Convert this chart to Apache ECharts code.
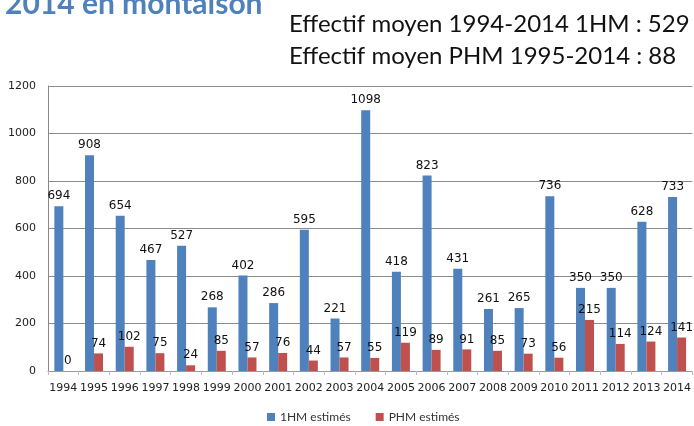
<!DOCTYPE html>
<html>
<head>
<meta charset="utf-8">
<script src="https://cdn.jsdelivr.net/npm/echarts@6/dist/echarts.min.js"></script>
<style>
  html, body { margin: 0; padding: 0; background: #fff; }
  #chart { width: 694px; height: 426px; }
</style>
</head>
<body>
<div id="chart"></div>
<script>
const years = ['1994', '1995', '1996', '1997', '1998', '1999', '2000', '2001', '2002', '2003', '2004',
  '2005', '2006', '2007', '2008', '2009', '2010', '2011', '2012', '2013', '2014']
const hm1 = [694, 908, 654, 467, 527, 268, 402, 286, 595, 221, 1098, 418, 823, 431, 261, 265, 736, 350, 350, 628, 733]
const phm = [0, 74, 102, 75, 24, 85, 57, 76, 44, 57, 55, 119, 89, 91, 85, 73, 56, 215, 114, 124, 141]
const yTicks = { min: 0, max: 1200, interval: 200 }

const chart = echarts.init(document.getElementById('chart'))

const labelStyle = {
  show: true,
  position: 'top',
  distance: 4,
  color: '#111',
  fontFamily: 'DejaVu Sans',
  fontSize: 12,
}

const option = {
  animation: false,
  color: ['#4f81bd', '#c0504d'],
  title: [
    {
      text: '2014 en montaison',
      left: 0,
      top: -16,
      textStyle: { color: '#4f81bd', fontFamily: 'Lato', fontWeight: 'bold', fontSize: 30 },
    },
    {
      text: 'Effectif moyen 1994-2014 1HM : 529',
      left: 284,
      top: 7,
      textStyle: { color: '#111', fontFamily: 'Lato', fontWeight: 'normal', fontSize: 24 },
    },
    {
      text: 'Effectif moyen PHM 1995-2014 : 88',
      left: 284,
      top: 39,
      textStyle: { color: '#111', fontFamily: 'Lato', fontWeight: 'normal', fontSize: 24 },
    },
  ],
  legend: {
    top: 406,
    left: 262,
    itemWidth: 8,
    itemHeight: 8,
    itemGap: 25,
    icon: 'rect',
    textStyle: { color: '#333', fontFamily: 'Lato', fontSize: 12 },
    data: ['1HM estimés', 'PHM estimés'],
  },
  grid: { left: 48, right: -2, top: 86, bottom: 55 },
  xAxis: {
    type: 'category',
    data: years,
    axisLine: { show: true, lineStyle: { color: '#999' } },
    axisTick: { show: true, length: 4, lineStyle: { color: '#bbb' } },
    axisLabel: { color: '#222', fontFamily: 'DejaVu Sans', fontSize: 11, margin: 12, interval: 0 },
  },
  yAxis: {
    type: 'value',
    min: yTicks.min,
    max: yTicks.max,
    interval: yTicks.interval,
    axisLine: { show: true, lineStyle: { color: '#888' } },
    axisTick: { show: false },
    axisLabel: { color: '#222', fontFamily: 'DejaVu Sans', fontSize: 11, margin: 12, formatter: v => String(v) },
    splitLine: { lineStyle: { color: '#8c8c8c' } },
  },
  series: [
    { name: '1HM estimés', type: 'bar', data: hm1, barWidth: 9, barGap: '0%', label: labelStyle },
    { name: 'PHM estimés', type: 'bar', data: phm, barWidth: 9, barGap: '0%', label: labelStyle },
  ],
}
chart.setOption(option)
</script>
</body>
</html>
